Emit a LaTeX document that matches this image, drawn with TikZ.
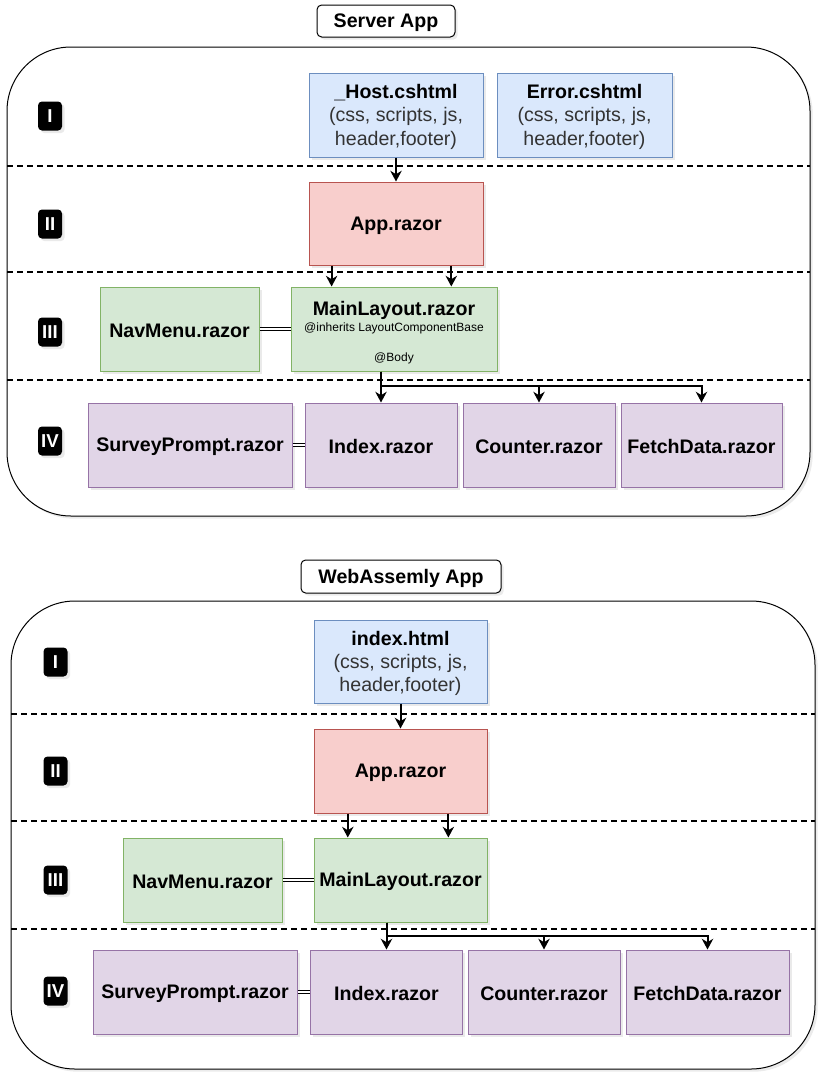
\documentclass[tikz,border=0pt]{standalone}
\usepackage{fontspec}
\setmainfont{Liberation Sans}
\usetikzlibrary{arrows.meta,shadows,calc}

\definecolor{bluefill}{HTML}{DAE8FC}\definecolor{bluedraw}{HTML}{6C8EBF}
\definecolor{redfill}{HTML}{F8CECC}\definecolor{reddraw}{HTML}{B85450}
\definecolor{greenfill}{HTML}{D5E8D4}\definecolor{greendraw}{HTML}{82B366}
\definecolor{purplefill}{HTML}{E1D5E7}\definecolor{purpledraw}{HTML}{9673A6}
\definecolor{subtext}{HTML}{333333}

\begin{document}
\begin{tikzpicture}[x=0.75pt,y=-0.75pt,
  every node/.style={font=\fontsize{14.7}{17.6}\selectfont},
  shade/.style={drop shadow={opacity=0.16,shadow xshift=2pt,shadow yshift=-2pt}},
  wh/.style 2 args={minimum width={#1*0.75pt},minimum height={#2*0.75pt}},
  one/.style={text height=13.5pt},
  card/.style={draw,rectangle,inner sep=0pt,align=center,line width=0.75pt,shade},
  bluebox/.style={card,fill=bluefill,draw=bluedraw},
  redbox/.style={card,one,fill=redfill,draw=reddraw},
  greenbox/.style={card,fill=greenfill,draw=greendraw},
  purplebox/.style={card,one,fill=purplefill,draw=purpledraw},
  titlebox/.style={draw,fill=white,rounded corners=3.5pt,line width=0.75pt,inner sep=0pt,
    one,shade},
  badge/.style={fill=black,text=white,rounded corners=3pt,inner sep=0pt,wh={24}{29},
    font=\fontsize{14}{16}\selectfont\bfseries,shade},
  panel/.style={draw,fill=white,line width=0.75pt,rounded corners=48pt,shade},
  layerline/.style={line width=1.4pt,dash pattern=on 4.5pt off 3pt},
  arr/.style={line width=1.5pt,-{Stealth[length=8pt,width=8.5pt,inset=2.5pt]}},
  link/.style={draw,double,double distance=2pt,line width=0.75pt}
]
\useasboundingbox (0,0) rectangle (828,1082);

% ---------------- Server App ----------------
\draw[panel] (7,47) rectangle (810,516);
\draw[layerline] (7,166) -- (810,166);
\draw[layerline] (7,272) -- (810,272);
\draw[layerline] (7,380) -- (810,380);

\node[titlebox,wh={138}{32}] (t1) at (386,21) {\textbf{Server App}};

\node[badge] (s1) at (50,116) {I};
\node[badge] (s2) at (50,224) {II};
\node[badge] (s3) at (50,332) {III};
\node[badge] (s4) at (50,441) {IV};

\node[bluebox,wh={174}{84}] (host) at (396,115)
  {\rule{0pt}{13.5pt}\textbf{\_Host.cshtml}\\{\color{subtext}(css, scripts, js,}\\{\color{subtext}header,footer)}};
\node[bluebox,wh={175}{84}] (err) at (584.5,115)
  {\rule{0pt}{13.5pt}\textbf{Error.cshtml}\\{\color{subtext}(css, scripts, js,}\\{\color{subtext}header,footer)}};
\node[redbox,wh={174}{83}] (app) at (396,223.5) {\textbf{App.razor}};
\node[greenbox,one,wh={159}{84}] (nav) at (179.5,329) {\textbf{NavMenu.razor}};
\node[greenbox,wh={206}{84}] (ml) at (394,329)
  {\rule{0pt}{15.7pt}\textbf{MainLayout.razor}\\[-5.5pt]
   {\fontsize{9}{11}\selectfont @inherits LayoutComponentBase}\\[4.5pt]
   {\fontsize{9}{11}\selectfont @Body}};
\node[purplebox,wh={204}{84}] (sp) at (190,445) {\textbf{SurveyPrompt.razor}};
\node[purplebox,wh={152}{84}] (idx) at (381,445) {\textbf{Index.razor}};
\node[purplebox,wh={152}{84}] (cnt) at (539,445) {\textbf{Counter.razor}};
\node[purplebox,wh={161}{84}] (fd) at (701.5,445) {\textbf{FetchData.razor}};

\draw[arr] (host.south) -- (app.north);
\draw[arr] ($(app.south west)!0.132!(app.south east)$) coordinate (a1) -- (a1 |- ml.north);
\draw[arr] ($(app.south west)!0.816!(app.south east)$) coordinate (a2) -- (a2 |- ml.north);
\draw[link] (nav.east) -- (ml.west);
\draw[link] (sp.east) -- (idx.west);
\coordinate (m1) at (ml.south -| idx.north);
\draw[arr] (m1) -- (idx.north);
\draw[arr] (m1) -- ++(0,14) -| (cnt.north);
\draw[arr] (m1) -- ++(0,14) -| (fd.north);

% ---------------- WebAssembly App ----------------
\draw[panel] (11,601) rectangle (815,1069);
\draw[layerline] (11,714) -- (815,714);
\draw[layerline] (11,821) -- (815,821);
\draw[layerline] (11,929) -- (815,929);

\node[titlebox,wh={200}{33}] (t2) at (401,576.5) {\textbf{WebAssemly App}};

\node[badge] (w1) at (55.5,662) {I};
\node[badge] (w2) at (55.5,771) {II};
\node[badge] (w3) at (55.5,880) {III};
\node[badge] (w4) at (55.5,991) {IV};

\node[bluebox,wh={173}{83}] (ihtml) at (400.5,661.5)
  {\rule{0pt}{13.5pt}\textbf{index.html}\\{\color{subtext}(css, scripts, js,}\\{\color{subtext}header,footer)}};
\node[redbox,wh={173}{84}] (app2) at (400.5,771) {\textbf{App.razor}};
\node[greenbox,one,wh={159}{84}] (nav2) at (202.5,880) {\textbf{NavMenu.razor}};
\node[greenbox,one,wh={173}{84}] (ml2) at (400.5,880) {\textbf{MainLayout.razor}};
\node[purplebox,wh={204}{84}] (sp2) at (195,992) {\textbf{SurveyPrompt.razor}};
\node[purplebox,wh={152}{84}] (idx2) at (386.5,992) {\textbf{Index.razor}};
\node[purplebox,wh={152}{84}] (cnt2) at (544,992) {\textbf{Counter.razor}};
\node[purplebox,wh={163}{84}] (fd2) at (707.5,992) {\textbf{FetchData.razor}};

\draw[arr] (ihtml.south) -- (app2.north);
\draw[arr] ($(app2.south west)!0.197!(app2.south east)$) coordinate (b1) -- (b1 |- ml2.north);
\draw[arr] ($(app2.south west)!0.775!(app2.south east)$) coordinate (b2) -- (b2 |- ml2.north);
\draw[link] (nav2.east) -- (ml2.west);
\draw[link] (sp2.east) -- (idx2.west);
\coordinate (m2) at (ml2.south -| idx2.north);
\draw[arr] (m2) -- (idx2.north);
\draw[arr] (m2) -- ++(0,13) -| (cnt2.north);
\draw[arr] (m2) -- ++(0,13) -| (fd2.north);
\end{tikzpicture}
\end{document}
